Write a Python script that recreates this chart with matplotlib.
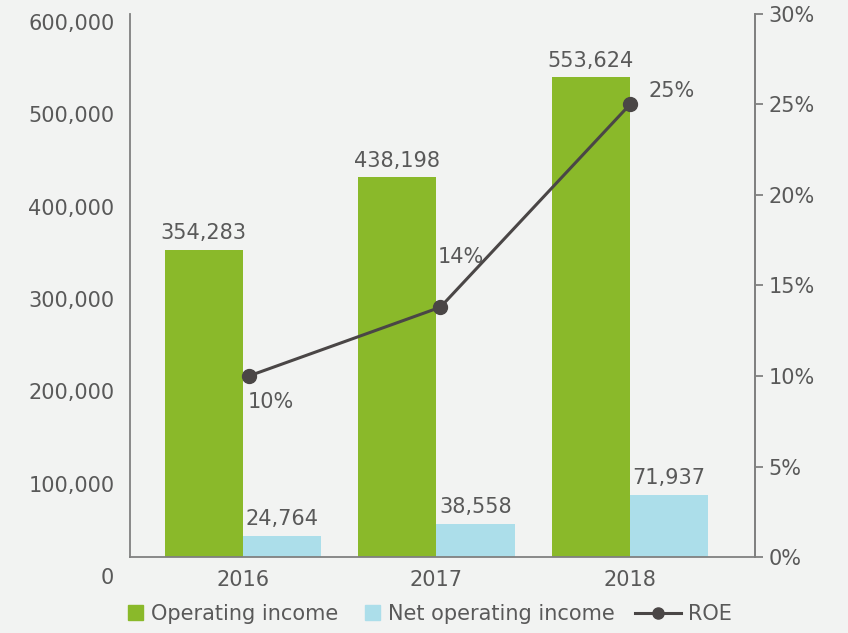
import numpy as np
import matplotlib.pyplot as plt
from matplotlib.transforms import blended_transform_factory
from matplotlib.lines import Line2D
from matplotlib.patches import Patch

years = ["2016", "2017", "2018"]
operating_income = [354283, 438198, 553624]
net_operating_income = [24764, 38558, 71937]
roe = [10.0, 13.8, 25.0]
roe_labels = ["10%", "14%", "25%"]

left_ticks = [0, 100000, 200000, 300000, 400000, 500000, 600000]
right_ticks = [0, 5, 10, 15, 20, 25, 30]

green = "#8ab92a"
blue = "#acdeea"
line_col = "#4a4646"
txt = "#595959"
spine_col = "#808080"
bg = "#f2f3f2"

plt.rcParams['font.family'] = ['DejaVu Sans']
plt.rcParams['font.size'] = 15

fig = plt.figure(figsize=(8.48, 6.33), dpi=100, facecolor=bg)
ax = fig.add_axes([0.1533, 0.120, 0.737, 0.858])
ax.set_facecolor(bg)

x = np.arange(len(years))
w = 0.405
b1 = ax.bar(x - w / 2, operating_income, w, color=green)
b2 = ax.bar(x + w / 2, net_operating_income, w, color=blue)
ax.set_xlim(-0.584, 2.646)
ax.set_ylim(0, 627000)

for rect, v in zip(b1, operating_income):
    ax.annotate(f"{v:,}", (rect.get_x() + rect.get_width() / 2, v), xytext=(0, 5),
                textcoords="offset points", ha="center", va="bottom", color=txt)
for rect, v in zip(b2, net_operating_income):
    ax.annotate(f"{v:,}", (rect.get_x() + rect.get_width() / 2, v), xytext=(0, 5),
                textcoords="offset points", ha="center", va="bottom", color=txt)

ax.spines["top"].set_visible(False)
for s in ["left", "bottom", "right"]:
    ax.spines[s].set_color(spine_col)
    ax.spines[s].set_linewidth(1.3)

ax.set_xticks(x)
ax.set_xticklabels(years, color=txt)
ax.tick_params(axis="x", length=0, pad=9)
ax.set_yticks([])

# left labels sit on their own scale in the original
lab = ax.twinx()
lab.set_ylim(22744, 610850)
lab.axis("off")
tr = blended_transform_factory(ax.transAxes, lab.transData)
for v in left_ticks:
    lab.text(-0.025, v, f"{v:,}", transform=tr, ha="right", va="center",
             color=txt, clip_on=False)

ax2 = ax.twinx()
ax2.set_ylim(0, 30)
ax2.set_yticks(right_ticks)
ax2.set_yticklabels([f"{t}%" for t in right_ticks], color=txt)
ax2.tick_params(axis="y", length=6, width=1.3, color=spine_col, pad=4)
for s in ["top", "left", "bottom"]:
    ax2.spines[s].set_visible(False)
ax2.spines["right"].set_color(spine_col)
ax2.spines["right"].set_linewidth(1.3)

xr = x + np.array([0.03, 0.02, 0.0])
ax2.plot(xr, roe, color=line_col, lw=2.2, marker="o", ms=10, zorder=5)
offs = [(-1, -19), (-2, 36), (13, 10)]
for xi, r, s, o in zip(xr, roe, roe_labels, offs):
    ax2.annotate(s, (xi, r), xytext=o, textcoords="offset points",
                 ha="left", va="center", color=txt)

# legend in two pieces: square swatches, then the longer line handle
leg_y = 1 - 614 / 633
bar_handles = [Patch(color=green, label="Operating income"),
               Patch(color=blue, label="Net operating income")]
leg1 = fig.legend(handles=bar_handles, loc="center left",
                  bbox_to_anchor=(128 / 848, leg_y), ncol=2, frameon=False,
                  borderpad=0, borderaxespad=0, handlelength=0.72, handleheight=0.72,
                  handletextpad=0.38, columnspacing=1.3)
leg2 = fig.legend(handles=[Line2D([], [], color=line_col, lw=2.2, marker="o", ms=8,
                                  label="ROE")],
                  loc="center left", bbox_to_anchor=(635 / 848, leg_y), frameon=False,
                  borderpad=0, borderaxespad=0, handlelength=2.2, handletextpad=0.35)
for lg in (leg1, leg2):
    for t in lg.get_texts():
        t.set_color(txt)

fig.savefig("out.png", dpi=100, facecolor=bg)
